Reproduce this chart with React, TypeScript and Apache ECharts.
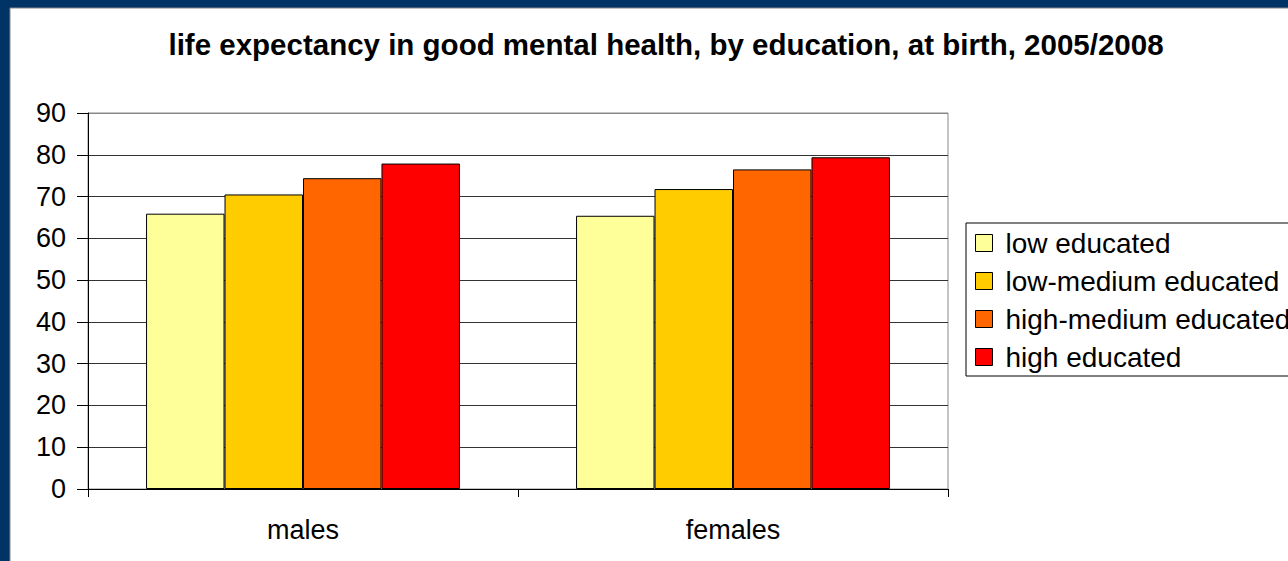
import React, { useEffect, useRef } from "react";
import * as echarts from "echarts";

const categories = ["males", "females"];
const seriesNames = ["low educated", "low-medium educated", "high-medium educated", "high educated"];
const lowEducated = [65.9, 65.4];
const lowMediumEducated = [70.5, 71.8];
const highMediumEducated = [74.4, 76.5];
const highEducated = [77.9, 79.4];
const seriesColors = ["#FFFF99", "#FFCC00", "#FF6600", "#FF0000"];
const yTicks = { min: 0, max: 90, interval: 10 };

const FONT = "'Liberation Sans', Arial, sans-serif";

export default function App() {
  const ref = useRef<HTMLDivElement>(null);
  useEffect(() => {
    if (!ref.current) return;
    const chart = echarts.init(ref.current, null, { renderer: "svg" });
    const values = [lowEducated, lowMediumEducated, highMediumEducated, highEducated];
    chart.setOption({
      animation: false,
      backgroundColor: "#003366",
      graphic: [
        {
          type: "rect",
          z: -10,
          silent: true,
          shape: { x: 10, y: 8, width: 1290, height: 560 },
          style: { fill: "#ffffff", stroke: "#888888", lineWidth: 1 },
        },
      ],
      title: {
        text: "life expectancy in good mental health, by education, at birth, 2005/2008",
        left: 661,
        textAlign: "center",
        top: 24,
        textStyle: { fontFamily: FONT, fontSize: 29.5, fontWeight: "bold", color: "#000" },
      },
      legend: {
        orient: "vertical",
        left: 966,
        top: 223,
        data: seriesNames,
        backgroundColor: "#ffffff",
        borderColor: "#000000",
        borderWidth: 1,
        padding: [6, 20, 5, 9],
        itemGap: 10,
        itemWidth: 17,
        itemHeight: 17,
        icon: "rect",
        itemStyle: { borderColor: "#000", borderWidth: 1 },
        textStyle: { fontFamily: FONT, fontSize: 28, lineHeight: 28, color: "#000", padding: [0, 0, 0, 8] },
      },
      grid: {
        left: 88,
        top: 113,
        right: 340,
        bottom: 72,
        containLabel: false,
        outerBoundsMode: "none",
        show: true,
        borderColor: "#888888",
        borderWidth: 1,
        backgroundColor: "transparent",
      },
      xAxis: {
        type: "category",
        data: categories,
        axisLine: { show: true, lineStyle: { color: "#000", width: 1 } },
        axisTick: { show: true, alignWithLabel: false, length: 8, lineStyle: { color: "#000" } },
        axisLabel: { fontFamily: FONT, fontSize: 27, color: "#000", margin: 27 },
        splitLine: { show: false },
      },
      yAxis: {
        type: "value",
        min: yTicks.min,
        max: yTicks.max,
        interval: yTicks.interval,
        axisLine: { show: true, lineStyle: { color: "#000", width: 1 } },
        axisTick: { show: true, inside: false, length: 11, lineStyle: { color: "#000" } },
        axisLabel: { fontFamily: FONT, fontSize: 27, color: "#000", margin: 22 },
        splitLine: {
          show: true,
          lineStyle: {
            color: ["#333", "#333", "#333", "#333", "#333", "#333", "#333", "#333", "#333", "#888"],
            width: 1,
          },
        },
      },
      series: seriesNames.map((name, i) => ({
        name,
        type: "bar",
        data: values[i],
        barGap: "0%",
        barCategoryGap: "27%",
        itemStyle: { color: seriesColors[i], borderColor: "#000", borderWidth: 1 },
      })),
    });
    return () => chart.dispose();
  }, []);
  return (
    <div
      ref={ref}
      style={{ position: "fixed", left: 0, top: 0, width: 1288, height: 561 }}
    />
  );
}
